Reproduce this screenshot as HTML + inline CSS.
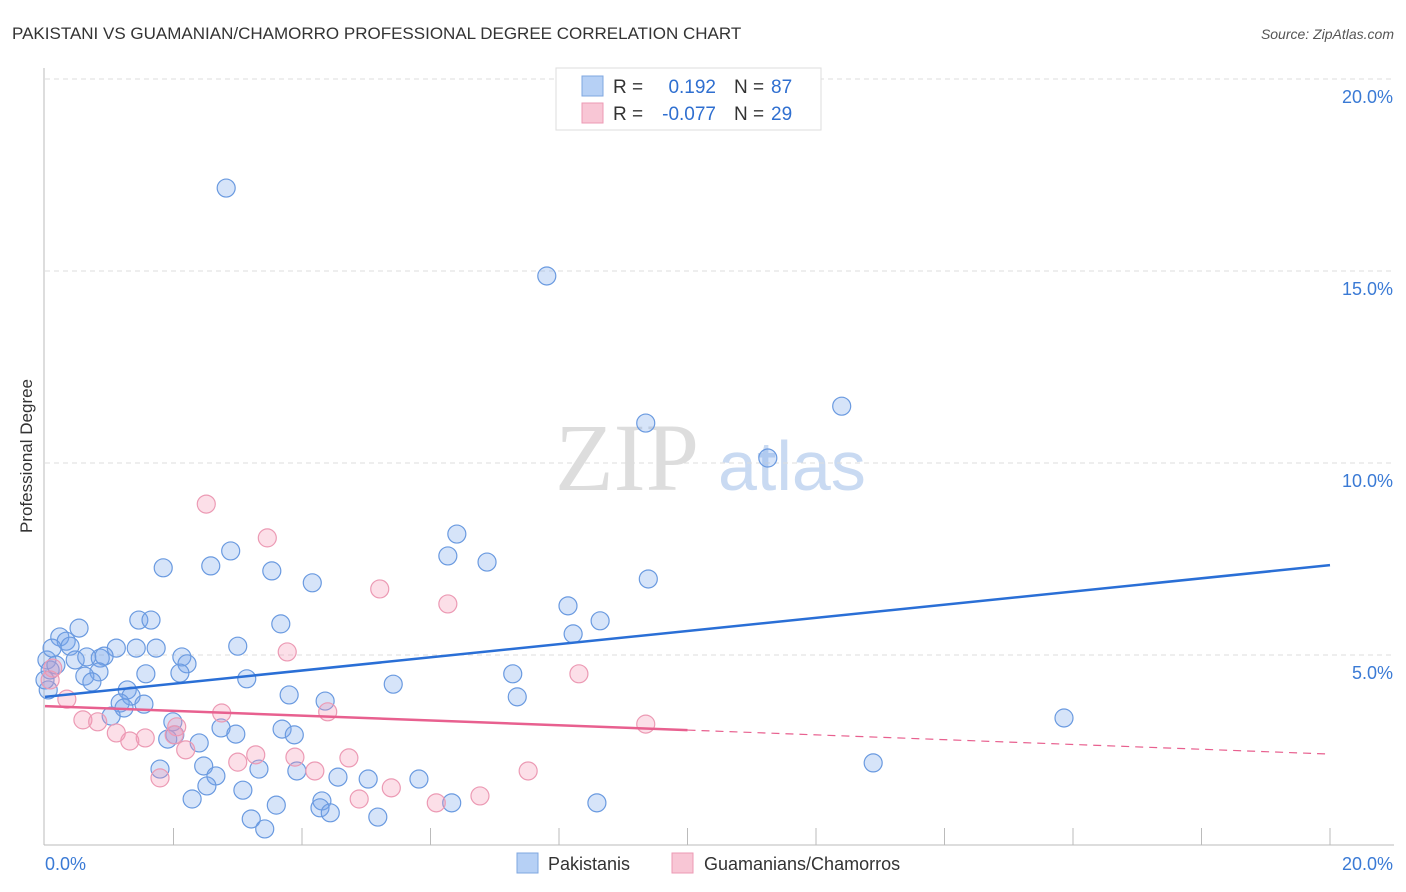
<!DOCTYPE html>
<html><head><meta charset="utf-8"><style>
body{margin:0;background:#fff;font-family:"Liberation Sans",sans-serif}
svg{display:block}
</style></head><body>
<svg id="c" width="1406" height="892">
<text x="12" y="39" font-size="17" fill="#333">PAKISTANI VS GUAMANIAN/CHAMORRO PROFESSIONAL DEGREE CORRELATION CHART</text>
<text x="1394" y="39" font-size="14" fill="#555" font-style="italic" text-anchor="end">Source: ZipAtlas.com</text>
<text x="32" y="456" font-size="17" fill="#333" text-anchor="middle" transform="rotate(-90 32 456)">Professional Degree</text>
<text x="555" y="490" font-size="96" fill="#ddd" font-family="Liberation Serif,serif">ZIP</text>
<text x="718" y="490" font-size="70" fill="#c9daf2">atlas</text>
<g id="grid"></g><g id="pts"></g><g id="lines"></g>
<g>
<rect x="556" y="68" width="265" height="62" fill="#fff" stroke="#ddd"/>
<rect x="582" y="76" width="21" height="20" fill="#b6d0f5" stroke="#7fa7e0"/>
<rect x="582" y="103" width="21" height="20" fill="#f8c6d5" stroke="#ec9ab4"/>
<text x="613" y="93" font-size="19" fill="#333">R =</text><text x="716" y="93" font-size="19" fill="#2f6fd0" text-anchor="end">0.192</text>
<text x="734" y="93" font-size="19" fill="#333">N =</text><text x="771" y="93" font-size="19" fill="#2f6fd0">87</text>
<text x="613" y="120" font-size="19" fill="#333">R =</text><text x="716" y="120" font-size="19" fill="#2f6fd0" text-anchor="end">-0.077</text>
<text x="734" y="120" font-size="19" fill="#333">N =</text><text x="771" y="120" font-size="19" fill="#2f6fd0">29</text>
</g>
<g>
<rect x="517" y="853" width="21" height="20" fill="#b6d0f5" stroke="#7fa7e0"/>
<text x="548" y="870" font-size="18" fill="#333">Pakistanis</text>
<rect x="672" y="853" width="21" height="20" fill="#f8c6d5" stroke="#ec9ab4"/>
<text x="704" y="870" font-size="18" fill="#333">Guamanians/Chamorros</text>
</g>
<text x="45" y="870" font-size="18" fill="#3a7ad5">0.0%</text>
<text x="1393" y="870" font-size="18" fill="#3a7ad5" text-anchor="end">20.0%</text>
</svg>
<script>
const yTicks=[5,10,15,20];
const yTickLabels=["5.0%","10.0%","15.0%","20.0%"];
const blueX=[2.82,7.81,12.40,9.35,11.25,6.41,2.89,6.27,6.88,1.84,2.58,3.53,4.16,9.39,8.14,8.64,1.46,1.65,3.67,0.53,0.23,0.33,0.39,1.11,1.42,1.73,3.00,0.03,0.47,0.65,0.86,0.92,2.13,2.21,2.10,1.57,0.84,0.62,0.73,3.14,5.42,7.28,8.22,1.28,1.34,7.35,3.80,4.36,1.17,1.23,1.54,1.03,1.99,2.74,2.97,3.69,3.88,1.91,2.02,2.40,15.86,1.79,2.47,3.33,3.92,4.56,5.03,5.82,2.66,12.89,2.52,3.08,2.29,4.31,3.60,4.28,4.44,6.33,8.59,3.21,5.18,3.42,0.05,0.08,0.17,0.0,0.11];
const blueY=[17.16,14.87,11.48,11.04,10.13,8.15,7.71,7.58,7.42,7.27,7.32,7.19,6.88,6.98,6.28,5.89,5.91,5.91,5.81,5.70,5.47,5.36,5.23,5.18,5.18,5.18,5.23,4.87,4.87,4.95,4.92,4.97,4.95,4.77,4.53,4.51,4.56,4.45,4.30,4.38,4.24,4.51,5.55,4.09,3.93,3.91,3.96,3.80,3.75,3.62,3.72,3.41,3.26,3.10,2.94,3.07,2.92,2.81,2.92,2.71,3.36,2.03,2.11,2.03,1.98,1.82,1.77,1.77,1.85,2.19,1.59,1.48,1.25,1.20,1.09,1.02,0.89,1.15,1.15,0.73,0.78,0.47,4.09,4.61,4.74,4.35,5.18];
const pinkX=[2.51,3.46,5.21,6.27,3.77,8.31,0.12,0.08,0.34,0.59,0.82,1.11,1.32,1.56,2.05,2.19,2.75,4.40,3.00,3.28,3.89,4.20,4.73,1.79,4.89,5.39,6.09,6.77,7.52,9.35,2.01];
const pinkY=[8.93,8.05,6.72,6.33,5.08,4.51,4.66,4.35,3.85,3.31,3.26,2.97,2.76,2.84,3.13,2.53,3.49,3.52,2.21,2.40,2.34,1.98,2.32,1.80,1.25,1.54,1.15,1.33,1.98,3.20,2.92];
const blueTrend=[3.91,7.34];
const pinkTrend=[3.67,2.42];
const pinkSolidEnd=10;
const NS="http://www.w3.org/2000/svg";
const sx=v=>45+v*64.25, sy=v=>847-v*38.4;
function mk(t,a,p){const e=document.createElementNS(NS,t);for(const k in a)e.setAttribute(k,a[k]);p.appendChild(e);return e;}
const grid=document.getElementById('grid');
yTicks.forEach((t,i)=>{
 const l=mk('line',{x1:45,x2:1394,y1:sy(t),y2:sy(t),stroke:'#ddd','stroke-dasharray':'5,4'},grid);
 
 
 const tx=mk('text',{x:1393,y:sy(t)+24,'font-size':18,fill:'#3a7ad5','text-anchor':'end'},grid);
 tx.textContent=yTickLabels[i];
 
 
});
mk('line',{x1:44,x2:44,y1:68,y2:845,stroke:'#bbb'},grid);
mk('line',{x1:44,x2:1394,y1:845,y2:845,stroke:'#bbb'},grid);
for(let i=1;i<=10;i++){const t=mk('line',{x1:sx(i*2),x2:sx(i*2),y1:828,y2:845,stroke:'#bbb'},grid);
 
 }
const pts=document.getElementById('pts');
blueX.forEach((x,i)=>{const c=mk('circle',{cx:sx(x),cy:sy(blueY[i]),r:9,fill:'rgba(120,165,235,0.3)',stroke:'#6a9ae0','stroke-width':1.2},pts);
 
 });
pinkX.forEach((x,i)=>{const c=mk('circle',{cx:sx(x),cy:sy(pinkY[i]),r:9,fill:'rgba(245,150,180,0.3)',stroke:'#ec9ab4','stroke-width':1.2},pts);
 
 });
const lines=document.getElementById('lines');
const bl=mk('line',{x1:sx(0),y1:sy(blueTrend[0]),x2:sx(20),y2:sy(blueTrend[1]),stroke:'#2a6fd6','stroke-width':2.5},lines);


const pm=pinkTrend[0]+(pinkTrend[1]-pinkTrend[0])*pinkSolidEnd/20;
const pl=mk('line',{x1:sx(0),y1:sy(pinkTrend[0]),x2:sx(pinkSolidEnd),y2:sy(pm),stroke:'#e8608f','stroke-width':2.5},lines);


const pd=mk('line',{x1:sx(pinkSolidEnd),y1:sy(pm),x2:sx(20),y2:sy(pinkTrend[1]),stroke:'#e8608f','stroke-width':1.2,'stroke-dasharray':'8,6'},lines);


</script>
</body></html>
